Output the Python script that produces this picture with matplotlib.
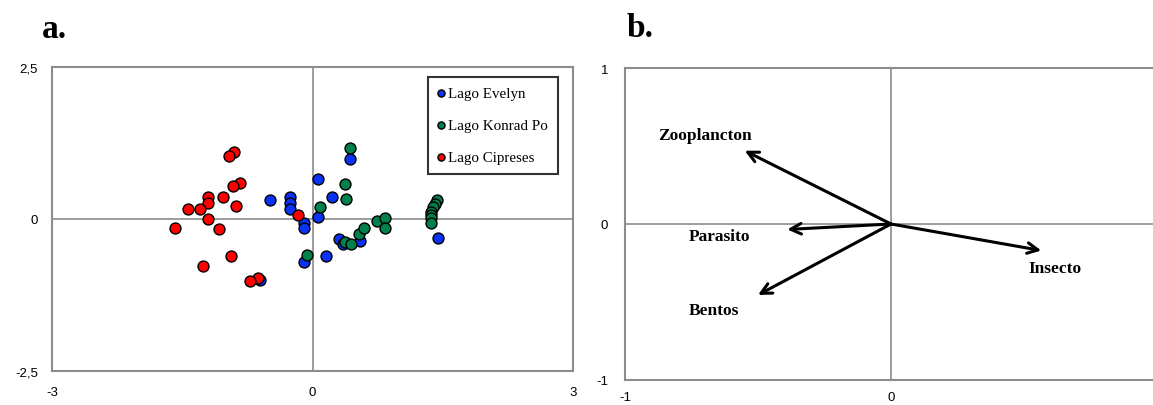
import matplotlib
matplotlib.use('Agg')
import matplotlib.pyplot as plt

# datos del panel a (puntuaciones por lago)
evelyn_x = [-0.49, -0.26, -0.26, -0.26, -0.10, -0.10, 0.06, 0.06, -0.10, 0.16, -0.60, 0.23, 0.43, 0.30, 0.35, 0.55, 1.45]
evelyn_y = [0.31, 0.36, 0.26, 0.16, -0.07, -0.15, 0.66, 0.04, -0.71, -0.61, -1.00, 0.36, 0.99, -0.33, -0.41, -0.36, -0.32]

konrad_x = [0.43, 0.37, 0.39, 0.09, -0.06, 0.37, 0.44, 0.54, 0.59, 0.74, 0.83, 0.83,
            1.43, 1.41, 1.39, 1.37, 1.36, 1.36, 1.36]
konrad_y = [1.16, 0.57, 0.33, 0.19, -0.60, -0.38, -0.41, -0.24, -0.14, -0.04, 0.01, -0.14,
            0.31, 0.25, 0.19, 0.12, 0.06, 0.01, -0.07]

cipreses_x = [-0.90, -0.96, -0.83, -0.91, -1.20, -1.03, -1.20, -1.43, -1.29, -0.88, -1.20,
              -1.58, -1.08, -0.94, -1.26, -0.63, -0.72, -0.17]
cipreses_y = [1.11, 1.04, 0.59, 0.54, 0.36, 0.37, 0.26, 0.16, 0.16, 0.21, 0.00,
              -0.14, -0.17, -0.61, -0.78, -0.97, -1.02, 0.07]

# datos del panel b (vectores)
variables = ['Zooplancton', 'Parasito', 'Bentos', 'Insecto']
vec_x = [-0.55, -0.39, -0.50, 0.565]
vec_y = [0.47, -0.035, -0.455, -0.17]
lab_x = [-0.70, -0.645, -0.665, 0.615]
lab_y = [0.57, -0.08, -0.55, -0.285]

W, H = 1153, 406
fig = plt.figure(figsize=(W / 100, H / 100), dpi=100)

grey = '#8c8c8c'
tickfont = dict(family='Liberation Sans', size=9.5)

# ---- panel a ----
ax1 = fig.add_axes([52 / W, (H - 372) / H, (573 - 52) / W, (372 - 68) / H])
ax1.axhline(0, color=grey, lw=1.2, zorder=1)
ax1.axvline(0, color=grey, lw=1.2, zorder=1)
ax1.scatter(evelyn_x, evelyn_y, s=62, color='#0a32f5', edgecolor='black', lw=1, zorder=3, label='Lago Evelyn')
ax1.scatter(konrad_x, konrad_y, s=62, color='#00804a', edgecolor='black', lw=1, zorder=3, label='Lago Konrad Po')
ax1.scatter(cipreses_x, cipreses_y, s=62, color='#ff0000', edgecolor='black', lw=1, zorder=3, label='Lago Cipreses')
ax1.set_xlim(-3, 3)
ax1.set_ylim(-2.5, 2.5)
ax1.set_xticks([-3, 0, 3])
ax1.set_xticklabels(['-3', '0', '3'], **tickfont)
ax1.set_yticks([-2.5, 0, 2.5])
ax1.set_yticklabels(['-2,5', '0', '2,5'], **tickfont)
ax1.tick_params(axis='y', length=0, pad=10)
ax1.tick_params(axis='x', length=0, pad=11)
for sp in ax1.spines.values():
    sp.set_color(grey)
    sp.set_linewidth(1.5)
leg = ax1.legend(loc='upper right', bbox_to_anchor=(0.971, 0.967), frameon=True, fancybox=False,
                 edgecolor='black', markerscale=0.65, handlelength=0.4, handletextpad=0.3,
                 labelspacing=1.22, borderpad=0.65, borderaxespad=0,
                 prop=dict(family='Liberation Serif', size=10.8))
leg.get_frame().set_linewidth(1.5)
fig.text(42 / W, (H - 38) / H, 'a.', family='Liberation Serif', weight='bold', size=24)

# ---- panel b ----
ax2 = fig.add_axes([625 / W, (H - 381) / H, (1157 - 625) / W, (381 - 69) / H])
ax2.axhline(0, color=grey, lw=1.2, zorder=1)
ax2.axvline(0, color=grey, lw=1.2, zorder=1)
for name, vx, vy, tx, ty in zip(variables, vec_x, vec_y, lab_x, lab_y):
    ax2.annotate('', xy=(vx, vy), xytext=(0, 0),
                 arrowprops=dict(arrowstyle='->', color='black', lw=2.2, mutation_scale=19,
                                 shrinkA=0, shrinkB=0))
    ax2.text(tx, ty, name, ha='center', va='center', family='Liberation Serif',
             weight='bold', size=12.5)
ax2.set_xlim(-1, 1)
ax2.set_ylim(-1, 1)
ax2.set_xticks([-1, 0, 1])
ax2.set_xticklabels(['-1', '0', '1'], **tickfont)
ax2.set_yticks([-1, 0, 1])
ax2.set_yticklabels(['-1', '0', '1'], **tickfont)
ax2.tick_params(axis='y', length=0, pad=12)
ax2.tick_params(axis='x', length=0, pad=8)
for sp in ax2.spines.values():
    sp.set_color(grey)
    sp.set_linewidth(1.5)
fig.text(627 / W, (H - 37) / H, 'b.', family='Liberation Serif', weight='bold', size=24)

fig.savefig('out.png', dpi=100)
